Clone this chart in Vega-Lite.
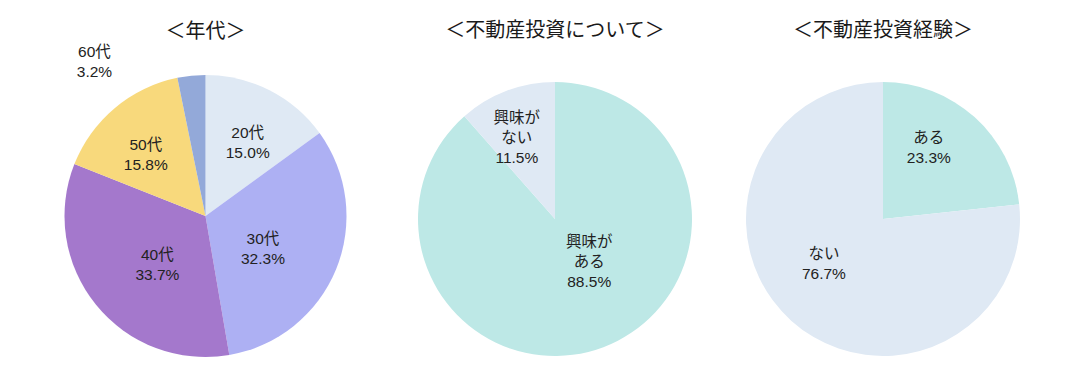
{
  "$schema": "https://vega.github.io/schema/vega-lite/v6.json",
  "padding": {"top": 21, "left": 0, "right": 0, "bottom": 0},
  "background": "white",
  "config": {
    "view": {"stroke": null},
    "font": "Noto Sans CJK JP",
    "title": {"fontSize": 20, "fontWeight": "normal", "color": "#1a1a1a", "font": "Noto Sans CJK JP", "anchor": "middle", "baseline": "bottom", "offset": 20},
    "text": {"font": "Liberation Sans, Noto Sans CJK JP", "fontSize": 15.5, "lineHeight": 20, "color": "#222222"},
    "concat": {"spacing": 0}
  },
  "resolve": {"scale": {"color": "independent", "theta": "independent"}},
  "datasets": {
    "age": [
      {"cat": "20代", "pct": 15.0, "order": 1},
      {"cat": "30代", "pct": 32.3, "order": 2},
      {"cat": "40代", "pct": 33.7, "order": 3},
      {"cat": "50代", "pct": 15.8, "order": 4},
      {"cat": "60代", "pct": 3.2, "order": 5}
    ],
    "interest": [
      {"cat": "興味がある", "pct": 88.5, "order": 1},
      {"cat": "興味がない", "pct": 11.5, "order": 2}
    ],
    "experience": [
      {"cat": "ある", "pct": 23.3, "order": 1},
      {"cat": "ない", "pct": 76.7, "order": 2}
    ]
  },
  "hconcat": [
    {
      "title": {"text": "＜年代＞", "offset": 3},
      "width": 411,
      "height": 310,
      "data": {"name": "age"},
      "transform": [{"calculate": "datum.cat + '\\n' + format(datum.pct, '.1f') + '%'", "as": "label"}],
      "encoding": {
        "theta": {"field": "pct", "type": "quantitative", "stack": true},
        "order": {"field": "order", "type": "quantitative"}
      },
      "layer": [
        {
          "mark": {"type": "arc", "radius": 141},
          "encoding": {
            "color": {"field": "cat", "type": "nominal", "legend": null,
              "scale": {"domain": ["20代", "30代", "40代", "50代", "60代"], "range": ["#dfe9f4", "#adb0f3", "#a478cc", "#f8d97c", "#93a9d9"]}}
          }
        },
        {
          "mark": {"type": "text", "lineBreak": "\n",
            "radius": {"expr": "datum.pct < 5 ? 160 : datum.pct > 28 ? 62 : 93"},
            "dx": {"expr": "datum.pct < 5 ? -95 : 0"},
            "dy": {"expr": "datum.pct < 5 ? -5 : 0"}},
          "encoding": {
            "detail": {"field": "cat", "type": "nominal"},
            "text": {"field": "label"}
          }
        }
      ]
    },
    {
      "title": "＜不動産投資について＞",
      "width": 288,
      "height": 316,
      "data": {"name": "interest"},
      "transform": [{"calculate": "replace(datum.cat, '興味が', '興味が\\n') + '\\n' + format(datum.pct, '.1f') + '%'", "as": "label"}],
      "encoding": {
        "theta": {"field": "pct", "type": "quantitative", "stack": true},
        "order": {"field": "order", "type": "quantitative"}
      },
      "layer": [
        {
          "mark": {"type": "arc", "radius": 137},
          "encoding": {
            "color": {"field": "cat", "type": "nominal", "legend": null,
              "scale": {"domain": ["興味がある", "興味がない"], "range": ["#bde8e6", "#dfe9f4"]}}
          }
        },
        {
          "mark": {"type": "text", "lineBreak": "\n",
            "radius": {"expr": "datum.pct > 28 ? 60 : 108"},
            "dx": {"expr": "datum.pct > 50 ? 13 : 0"},
            "dy": {"expr": "datum.pct > 50 ? -33 : 0"}},
          "encoding": {
            "detail": {"field": "cat", "type": "nominal"},
            "text": {"field": "label"}
          }
        }
      ]
    },
    {
      "title": "＜不動産投資経験＞",
      "width": 368,
      "height": 316,
      "data": {"name": "experience"},
      "transform": [{"calculate": "datum.cat + '\\n' + format(datum.pct, '.1f') + '%'", "as": "label"}],
      "encoding": {
        "theta": {"field": "pct", "type": "quantitative", "stack": true},
        "order": {"field": "order", "type": "quantitative"}
      },
      "layer": [
        {
          "mark": {"type": "arc", "radius": 137},
          "encoding": {
            "color": {"field": "cat", "type": "nominal", "legend": null,
              "scale": {"domain": ["ある", "ない"], "range": ["#bde8e6", "#dfe9f4"]}}
          }
        },
        {
          "mark": {"type": "text", "lineBreak": "\n",
            "radius": {"expr": "datum.pct > 28 ? 72 : 88"},
            "dx": {"expr": "datum.pct > 50 ? -11 : -13"},
            "dy": {"expr": "datum.pct > 50 ? -19 : -16"}},
          "encoding": {
            "detail": {"field": "cat", "type": "nominal"},
            "text": {"field": "label"}
          }
        }
      ]
    }
  ]
}
